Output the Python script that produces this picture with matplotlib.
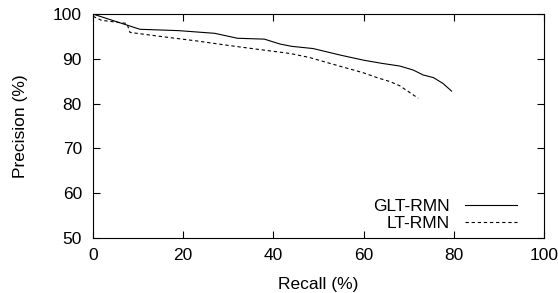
import numpy as np
import matplotlib
matplotlib.use('Agg')
import matplotlib.pyplot as plt

matplotlib.rcParams['font.family'] = 'Liberation Sans'

# data
glt_recall = [0, 10.4, 19, 27, 32, 38, 41.5, 44, 48.8, 55, 60, 64, 68, 71, 73.2, 75.5, 77.6, 79.5]
glt_prec = [100, 96.6, 96.3, 95.7, 94.6, 94.4, 93.3, 92.8, 92.3, 90.8, 89.7, 89.0, 88.4, 87.5, 86.4, 85.8, 84.5, 82.8]

lt_recall = [0, 1.9, 7.5, 8.2, 15, 23, 30, 36, 43.7, 48, 52.5, 56, 59.9, 63, 65.9, 68, 69.9, 72.1]
lt_prec = [99.5, 98.6, 97.9, 95.9, 95.0, 94.0, 93.0, 92.2, 91.2, 90.3, 89.0, 88.0, 86.9, 85.8, 84.9, 84.0, 82.7, 81.2]

xticks = [0, 20, 40, 60, 80, 100]
yticks = [50, 60, 70, 80, 90, 100]

fs = 12.5

fig = plt.figure(figsize=(5.58, 2.93), dpi=100)
ax = fig.add_axes([0.1667, 0.1877, 0.8083, 0.7643])

ax.plot(glt_recall, glt_prec, '-', color='k', linewidth=0.8, label='GLT-RMN')
ax.plot(lt_recall, lt_prec, '--', color='k', linewidth=0.8, dashes=(3, 2.5), label='LT-RMN')

ax.set_xlim(0, 100)
ax.set_ylim(50, 100)
ax.set_xticks(xticks)
ax.set_yticks(yticks)

ax.set_xlabel('Recall (%)', fontsize=fs, labelpad=10)
ax.set_ylabel('Precision (%)', fontsize=fs, labelpad=18)

ax.tick_params(which='major', direction='in', length=5, width=0.8, colors='k',
               top=True, right=True, labelsize=fs)
ax.tick_params(axis='x', pad=7)
ax.tick_params(axis='y', pad=8)
for s in ax.spines.values():
    s.set_linewidth(0.8)

ax.legend(loc='lower right', bbox_to_anchor=(0.940, 0.031), fontsize=fs,
          frameon=False, markerfirst=False, handlelength=3.0,
          handletextpad=0.85, labelspacing=0.1, borderpad=0, borderaxespad=0)

plt.savefig('out.png', dpi=100)
